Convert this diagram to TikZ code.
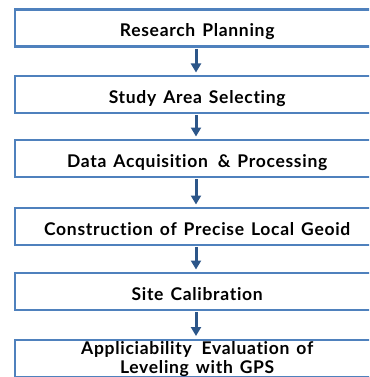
\documentclass[tikz,border=0pt]{standalone}
\usepackage{fontspec}
\setmainfont{Lato}[LetterSpace=4, WordSpace=1.4, Ligatures=NoCommon]
\usetikzlibrary{arrows.meta}
\definecolor{boxblue}{HTML}{4F81BD}
\definecolor{arrowblue}{HTML}{2C5689}
\begin{document}
\begin{tikzpicture}[x=1pt,y=-1pt,
  stepbox/.style={draw=boxblue, line width=2.4pt, fill=white,
    minimum width=364pt, minimum height=37pt, inner sep=0pt,
    text height=16.6pt, text depth=0pt,
    anchor=north west, align=center, font=\fontsize{17.5}{19}\selectfont\bfseries,
    text=black},
  twoline/.style={text height=, text depth=},
  flow/.style={draw=arrowblue, line width=3pt,
    -{Triangle[length=9pt,width=10pt]}, shorten <=1pt, shorten >=2.5pt}]
\useasboundingbox (0,0) rectangle (369,377);
\coordinate (axis) at (196,0);
\begin{scope}
\clip (0,0) rectangle (369,377);
\node[stepbox] (s1) at (14,8.5)   {Research Planning};
\node[stepbox] (s2) at (14,75)    {Study Area Selecting};
\node[stepbox] (s3) at (14,139)   {Data Acquisition \,\& Processing};
\node[stepbox] (s4) at (14,207)   {Construction of Precise Local Geoid};
\node[stepbox] (s5) at (14,272)   {Site Calibration};
\node[stepbox, twoline] (s6) at (14,338.5)
  {\rule{0pt}{13.5pt}Appliciability \,Evaluation of\\
   \raisebox{0pt}[\height][1pt]{Leveling with GPS}};
\end{scope}
\foreach \a/\b in {s1/s2,s2/s3,s3/s4,s4/s5,s5/s6}
  \draw[flow] (axis |- \a.south) -- (axis |- \b.north);
\end{tikzpicture}
\end{document}
